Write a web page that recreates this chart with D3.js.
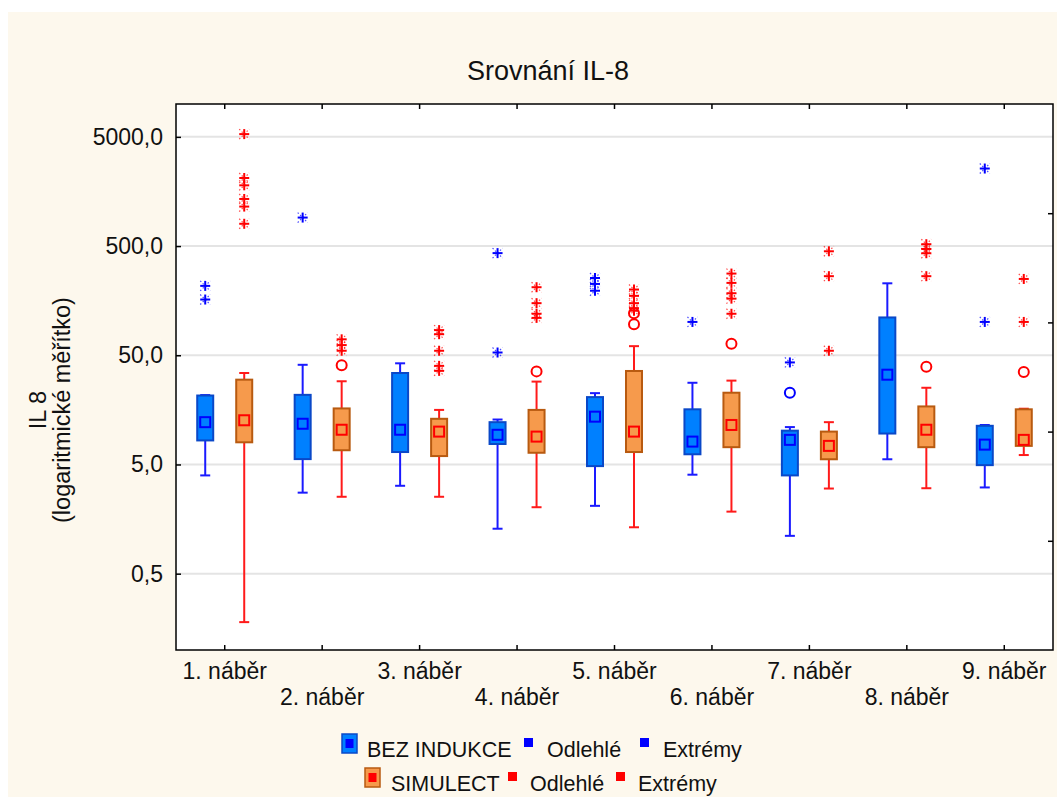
<!DOCTYPE html>
<html><head><meta charset="utf-8">
<script src="https://cdn.jsdelivr.net/npm/d3@7"></script>
<style>body{margin:0;background:#fff}svg{display:block}text{font-family:"Liberation Sans",Arial,sans-serif;fill:#111}</style>
</head><body><svg id="c" width="1057" height="797"></svg>
<script>
const categories = ["1. náběr","2. náběr","3. náběr","4. náběr","5. náběr","6. náběr","7. náběr","8. náběr","9. náběr"];
// BEZ INDUKCE
const bezQ1  = [8.3, 5.6, 6.5, 7.7, 4.83, 6.2, 3.97, 9.6, 4.93];
const bezQ3  = [21.4, 21.7, 34.4, 12.2, 20.7, 16.0, 10.2, 111, 11.3];
const bezMed = [12.2, 11.8, 10.4, 9.35, 13.7, 8.1, 8.4, 33.2, 7.6];
const bezMin = [3.97, 2.76, 3.19, 1.29, 2.09, 4.03, 1.11, 5.58, 3.08];
const bezMax = [21.6, 40.9, 42.2, 12.9, 22.5, 28.0, 11.0, 228, 11.5];
const bezOutliers = [[],[],[],[],[],[],[22.7],[],[]];
const bezExtremes = [[216,162],[912],[],[431,53],[255,225,195],[101],[43],[],[2565,101]];
// SIMULECT
const simQ1  = [7.98, 6.75, 5.97, 6.4, 6.5, 7.2, 5.58, 7.2, 7.4];
const simQ3  = [29.9, 16.3, 13.1, 15.8, 35.9, 22.7, 10.0, 17.0, 16.0];
const simMed = [12.7, 10.4, 10.0, 9.0, 10.0, 11.5, 7.4, 10.4, 8.4];
const simMin = [0.18, 2.53, 2.53, 2.03, 1.33, 1.85, 3.01, 3.03, 6.1];
const simMax = [34.4, 28.9, 15.8, 28.7, 60.6, 29.3, 12.2, 25.2, 16.2];
const simOutliers = [[],[40.6],[],[35.6],[121,96],[63.8],[],[39.2],[35.2]];
const simExtremes = [[5300,2100,1800,1350,1150,800],[70,62,55],[85,78,55,40,36],[210,150,120,110],[200,175,150,135,128],[280,230,185,165,120],[448,265,55],[520,470,430,265],[250,101]];
const yTickValues = [0.5, 5, 50, 500, 5000];
const yTickLabels = ["0,5","5,0","50,0","500,0","5000,0"];
const yMinorTicks = [1, 10, 100, 1000];

const svg = d3.select("#c");
svg.append("rect").attr("x",8).attr("y",12).attr("width",1049).attr("height",785).attr("fill","#fdf8ed");
const L=176,R=1053,T=104,B=650;
const x = d3.scaleBand().domain(categories).range([L,R]);
const y = d3.scaleLog().domain([0.1,10000]).range([B,T]);
svg.append("rect").attr("x",L).attr("y",T).attr("width",R-L).attr("height",B-T).attr("fill","#fff");
// grid
svg.append("g").selectAll("line").data(yTickValues).join("line")
  .attr("x1",L).attr("x2",R).attr("y1",d=>y(d)).attr("y2",d=>y(d))
  .attr("stroke","#e4e4e4").attr("stroke-width",2);
// axes
const axL = d3.axisLeft(y).tickValues(yTickValues).tickSize(-5).tickPadding(13).tickFormat((d,i)=>yTickLabels[i]);
const gL = svg.append("g").attr("transform",`translate(${L},0)`).call(axL);
const axR = d3.axisRight(y).tickValues(yMinorTicks).tickSize(-5).tickFormat("");
const gR = svg.append("g").attr("transform",`translate(${R},0)`).call(axR);
const axT = d3.axisTop(x).tickSize(-5).tickFormat("");
const gT = svg.append("g").attr("transform",`translate(0,${T})`).call(axT);
const axB = d3.axisBottom(x).tickSize(-5).tickPadding(0).tickFormat("");
const gB = svg.append("g").attr("transform",`translate(0,${B})`).call(axB);
[gL,gR,gT,gB].forEach(g=>{g.select(".domain").remove();g.selectAll(".tick line").attr("stroke","#000").attr("stroke-width",1.5);});
gL.selectAll(".tick text").attr("font-size",23).attr("fill","#111").attr("font-family","Liberation Sans, Arial, sans-serif");
svg.append("rect").attr("x",L).attr("y",T).attr("width",R-L).attr("height",B-T).attr("fill","none").attr("stroke","#000").attr("stroke-width",1.5);
// x labels
svg.append("g").selectAll("text").data(categories).join("text")
  .attr("x",d=>x(d)+x.bandwidth()/2)
  .attr("y",(d,i)=> i%2===0 ? 679 : 705)
  .attr("text-anchor","middle").attr("font-size",23).text(d=>d);
// title
svg.append("text").attr("x",548).attr("y",80).attr("text-anchor","middle").attr("font-size",27).text("Srovnání IL-8");
// y title
svg.append("text").attr("transform","translate(46,410) rotate(-90)").attr("text-anchor","middle").attr("font-size",23.5).text("IL 8");
svg.append("text").attr("transform","translate(70,410) rotate(-90)").attr("text-anchor","middle").attr("font-size",23.5).text("(logaritmické měřítko)");

const series = [
  {off:-19.5, q1:bezQ1,q3:bezQ3,med:bezMed,mn:bezMin,mx:bezMax,out:bezOutliers,ext:bezExtremes,
   fill:"#0080ff",stroke:"#0a48c8",line:"#1a1aff",medStroke:"#0000ff"},
  {off:19.5, q1:simQ1,q3:simQ3,med:simMed,mn:simMin,mx:simMax,out:simOutliers,ext:simExtremes,
   fill:"#f69a4c",stroke:"#b85a10",line:"#ff1a1a",medStroke:"#ff0000"}
];
const bw=16, cap=9, ms=10;
series.forEach(s=>{
  const g = svg.append("g");
  categories.forEach((c,i)=>{
    const cx = x(c)+x.bandwidth()/2+s.off;
    // whiskers
    g.append("line").attr("x1",cx).attr("x2",cx).attr("y1",y(s.mx[i])).attr("y2",y(s.mn[i])).attr("stroke",s.line).attr("stroke-width",2);
    [s.mx[i],s.mn[i]].forEach(v=>g.append("line").attr("x1",cx-cap/2-0.5).attr("x2",cx+cap/2+0.5).attr("y1",y(v)).attr("y2",y(v)).attr("stroke",s.line).attr("stroke-width",2));
    // box
    g.append("rect").attr("x",cx-bw/2).attr("y",y(s.q3[i])).attr("width",bw).attr("height",y(s.q1[i])-y(s.q3[i]))
      .attr("fill",s.fill).attr("stroke",s.stroke).attr("stroke-width",2);
    // median square
    g.append("rect").attr("x",cx-ms/2).attr("y",y(s.med[i])-ms/2).attr("width",ms).attr("height",ms)
      .attr("fill",s.fill).attr("stroke",s.medStroke).attr("stroke-width",2);
    // outliers
    s.out[i].forEach(v=>g.append("circle").attr("cx",cx).attr("cy",y(v)).attr("r",5).attr("fill","none").attr("stroke",s.medStroke).attr("stroke-width",2));
    // extremes (asterisk)
    s.ext[i].forEach(v=>{
      const a = g.append("g").attr("transform",`translate(${cx},${y(v)})`);
      a.append("line").attr("x1",-5).attr("x2",5).attr("y1",0).attr("y2",0).attr("stroke",s.medStroke).attr("stroke-width",2);
      a.append("line").attr("x1",0).attr("x2",0).attr("y1",-5).attr("y2",5).attr("stroke",s.medStroke).attr("stroke-width",2);
      a.append("line").attr("x1",-5).attr("x2",5).attr("y1",-5).attr("y2",5).attr("stroke",s.medStroke).attr("stroke-width",1.2).attr("stroke-dasharray","1.5,2").attr("opacity",0.7);
      a.append("line").attr("x1",-5).attr("x2",5).attr("y1",5).attr("y2",-5).attr("stroke",s.medStroke).attr("stroke-width",1.2).attr("stroke-dasharray","1.5,2").attr("opacity",0.7);
    });
  });
});
// legend
const legendRows = [
  {ix:342,iy:734,fill:"#0080ff",stroke:"#0a48c8",inner:"#0000ff",label:"BEZ INDUKCE",tx:367,ty:757,sq:[524,640],sqy:738,sqc:"#0000ff",o:547,e:663},
  {ix:365,iy:768,fill:"#f69a4c",stroke:"#b85a10",inner:"#ff0000",label:"SIMULECT",tx:391,ty:791,sq:[508,616],sqy:772,sqc:"#ff0000",o:530,e:638}
];
legendRows.forEach(r=>{
  svg.append("rect").attr("x",r.ix).attr("y",r.iy).attr("width",15).attr("height",19).attr("fill",r.fill).attr("stroke",r.stroke).attr("stroke-width",1.5);
  svg.append("rect").attr("x",r.ix+3.5).attr("y",r.iy+5).attr("width",8).attr("height",9).attr("fill",r.inner);
  svg.append("text").attr("x",r.tx).attr("y",r.ty).attr("font-size",21.5).text(r.label);
  r.sq.forEach(sx=>svg.append("rect").attr("x",sx).attr("y",r.sqy).attr("width",9).attr("height",9).attr("fill",r.sqc));
  svg.append("text").attr("x",r.o).attr("y",r.ty).attr("font-size",21.5).text("Odlehlé");
  svg.append("text").attr("x",r.e).attr("y",r.ty).attr("font-size",21.5).text("Extrémy");
});
</script></body></html>
